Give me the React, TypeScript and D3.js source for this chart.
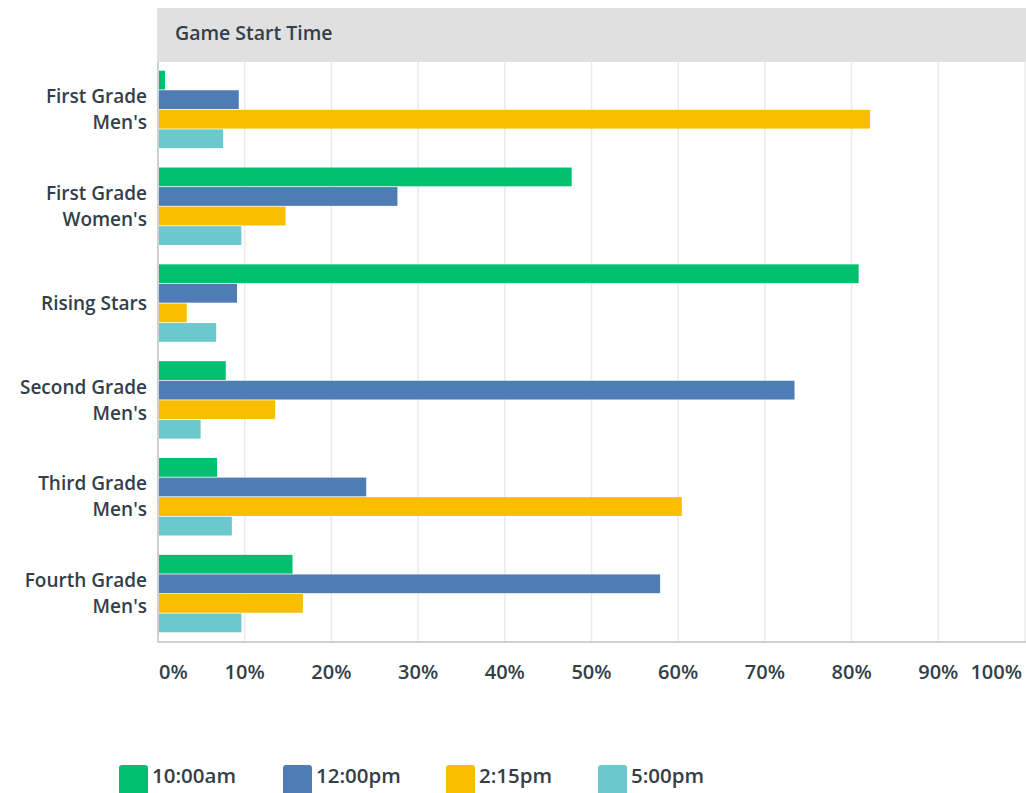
import React from 'react'
import * as d3 from 'd3'

const categories = [
  ["First Grade", "Men's"],
  ['First Grade', "Women's"],
  ['Rising Stars'],
  ['Second Grade', "Men's"],
  ['Third Grade', "Men's"],
  ['Fourth Grade', "Men's"],
]

const seriesNames = ['10:00am', '12:00pm', '2:15pm', '5:00pm']
const seriesColors = ['#00bf6f', '#507cb6', '#f9be00', '#6bc8cd']

// percent values, one array per series, in category order
const am1000 = [0.7, 47.6, 80.7, 7.7, 6.7, 15.4]
const pm1200 = [9.2, 27.5, 9.0, 73.3, 23.9, 57.8]
const pm215 = [82.0, 14.6, 3.2, 13.4, 60.3, 16.6]
const pm500 = [7.4, 9.5, 6.6, 4.8, 8.4, 9.5]
const seriesValues = [am1000, pm1200, pm215, pm500]

const xTicks = [0, 10, 20, 30, 40, 50, 60, 70, 80, 90, 100]

const W = 1026
const H = 793
const left = 158
const right = 1025
const top = 62
const bottom = 642
const textColor = '#333e48'
const font = '"Open Sans", sans-serif'

const App: React.FC = () => {
  const x = d3.scaleLinear().domain([0, 100]).range([left, right])
  const y0 = d3
    .scaleBand<number>()
    .domain(d3.range(categories.length))
    .range([top - 1, bottom])
    .paddingInner(0.2)
    .paddingOuter(0.1)
  const y1 = d3
    .scaleBand<number>()
    .domain(d3.range(seriesNames.length))
    .range([0, y0.bandwidth()])
    .paddingInner(0.04)

  const legendX = [119, 283, 446, 598]

  return (
    <svg
      width={W}
      height={H}
      style={{ position: 'absolute', left: 0, top: 0, background: '#fff', fontFamily: font }}
    >
      {/* header band */}
      <rect x={157} y={8} width={W - 157} height={top - 8} fill="#e0e0e0" />
      <text x={175} y={33} dy="0.35em" fontSize={19.5} fontWeight={600} fill={textColor}>
        Game Start Time
      </text>

      {/* gridlines */}
      {xTicks.slice(1).map(t => (
        <line key={t} x1={x(t)} x2={x(t)} y1={top} y2={bottom} stroke="#ebebeb" strokeWidth={1.5} />
      ))}

      {/* bars */}
      {categories.map((c, i) => (
        <g key={i} transform={`translate(0,${y0(i)})`}>
          {seriesValues.map((vals, s) => (
            <rect
              key={s}
              x={x(0) + 1}
              y={y1(s)}
              width={x(vals[i]) - x(0)}
              height={y1.bandwidth()}
              fill={seriesColors[s]}
            />
          ))}
        </g>
      ))}

      {/* axes */}
      <line x1={left} x2={left} y1={top} y2={bottom} stroke="#d0d0d0" strokeWidth={2} />
      <line x1={157} x2={W} y1={bottom} y2={bottom} stroke="#d0d0d0" strokeWidth={2} />

      {/* category labels */}
      {categories.map((lines, i) => {
        const cy = (y0(i) ?? 0) + y0.bandwidth() / 2
        const lh = 26
        return lines.map((l, k) => (
          <text
            key={`${i}-${k}`}
            x={147}
            y={cy + (k - (lines.length - 1) / 2) * lh}
            dy="0.35em"
            textAnchor="end"
            fontSize={19}
            fontWeight={600}
            fill={textColor}
          >
            {l}
          </text>
        ))
      })}

      {/* x tick labels */}
      {xTicks.map((t, i) => (
        <text
          key={t}
          x={i === 0 ? x(t) + 1 : i === xTicks.length - 1 ? x(t) - 3 : x(t)}
          y={672}
          dy="0.35em"
          textAnchor={i === 0 ? 'start' : i === xTicks.length - 1 ? 'end' : 'middle'}
          fontSize={20}
          fontWeight={600}
          fill={textColor}
        >
          {t}%
        </text>
      ))}

      {/* legend */}
      {seriesNames.map((n, s) => (
        <g key={n} transform={`translate(${legendX[s]},0)`}>
          <rect x={0} y={765} width={29} height={32} rx={3} fill={seriesColors[s]} />
          <text x={33} y={776} dy="0.35em" fontSize={20.5} fontWeight={600} fill={textColor}>
            {n}
          </text>
        </g>
      ))}
    </svg>
  )
}

export default App
